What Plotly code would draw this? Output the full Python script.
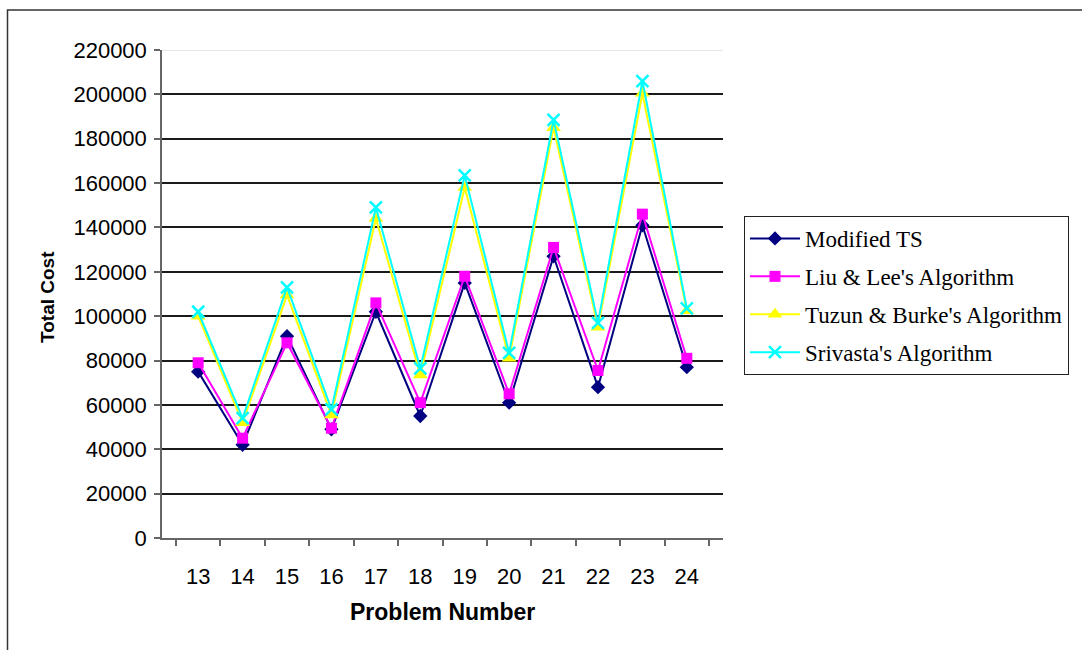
import plotly.graph_objects as go

problems = ["13", "14", "15", "16", "17", "18", "19", "20", "21", "22", "23", "24"]
modified_ts = [75000, 42000, 91000, 49000, 102000, 55000, 115000, 61000, 127000, 68000, 141000, 77000]
liu_lee = [79000, 45000, 88000, 49500, 106000, 61000, 118000, 65000, 131000, 75500, 146000, 81000]
tuzun_burke = [100000, 52000, 109500, 55500, 144000, 73500, 158000, 81000, 185000, 95000, 200500, 102500]
srivasta = [102000, 54000, 113000, 58000, 149000, 76500, 163500, 83500, 188500, 97000, 206000, 103500]
y_ticks = list(range(0, 220001, 20000))

series = [
    ("Modified TS", modified_ts, "#000080", "diamond", 11),
    ("Liu & Lee's Algorithm", liu_lee, "#FF00FF", "square", 11),
    ("Tuzun & Burke's Algorithm", tuzun_burke, "#FFFF00", "triangle-up", 13),
    ("Srivasta's Algorithm", srivasta, "#00FFFF", "x-thin-open", 12),
]

fig = go.Figure()
for i, (name, vals, color, sym, size) in enumerate(series):
    marker = dict(symbol=sym, size=size, color=color)
    if sym == "x-thin-open":
        marker["line"] = dict(color=color, width=2.5)
    fig.add_trace(go.Scatter(
        x=problems, y=vals, name=name, mode="lines+markers",
        line=dict(color=color, width=2), marker=marker,
        legendgroup=f"g{i}",
    ))

L, R, T, B = 162, 723, 50, 538
W, H = 1082, 650

fig.update_layout(
    width=W, height=H,
    margin=dict(l=L, r=W - R, t=T, b=H - B, pad=0),
    paper_bgcolor="white", plot_bgcolor="white",
    font=dict(family="Liberation Sans, Arial, sans-serif", size=22, color="black"),
    showlegend=True,
    legend=dict(
        x=(744 - L) / (R - L), y=(B - 216) / (B - T), xanchor="left", yanchor="top",
        bordercolor="#222222", borderwidth=1, bgcolor="white",
        font=dict(family="Liberation Serif, Times New Roman, serif", size=23, color="black"),
        tracegroupgap=5, itemwidth=50,
    ),
    xaxis=dict(
        type="category", showgrid=False, showline=True, linecolor="#666666", linewidth=1.5,
        ticks="outside", tickson="boundaries", ticklen=6, tickcolor="#666666", tickwidth=1.5,
        ticklabelstandoff=18, zeroline=False,
    ),
    yaxis=dict(
        range=[0, 220000], tickvals=y_ticks, ticktext=[str(v) for v in y_ticks],
        showgrid=True, gridcolor="#1a1a1a", gridwidth=1.5,
        showline=True, linecolor="#666666", linewidth=1.5,
        ticks="outside", ticklen=6, tickcolor="#666666", tickwidth=1.5,
        ticklabelstandoff=3, zeroline=False,
    ),
    annotations=[
        dict(text="<b>Total Cost</b>", x=(47 - L) / (R - L), y=(B - 297) / (B - T),
             xref="paper", yref="paper", textangle=-90, showarrow=False,
             xanchor="center", yanchor="middle",
             font=dict(size=19, family="Liberation Sans, Arial, sans-serif")),
        dict(text="<b>Problem Number</b>", x=0.5, y=(B - 612) / (B - T),
             xref="paper", yref="paper", showarrow=False,
             xanchor="center", yanchor="middle",
             font=dict(size=23, family="Liberation Sans, Arial, sans-serif")),
    ],
    shapes=[
        dict(type="line", xref="paper", yref="y", x0=0, x1=1, y0=220000, y1=220000,
             line=dict(color="#e6e6e6", width=2), layer="above"),
        dict(type="rect", xref="paper", yref="paper",
             x0=(7.5 - L) / (R - L), x1=(1100 - L) / (R - L),
             y0=(B - 700) / (B - T), y1=(B - 10) / (B - T),
             line=dict(color="#333333", width=1.5), layer="below"),
    ],
)

fig.write_html("out.html")
